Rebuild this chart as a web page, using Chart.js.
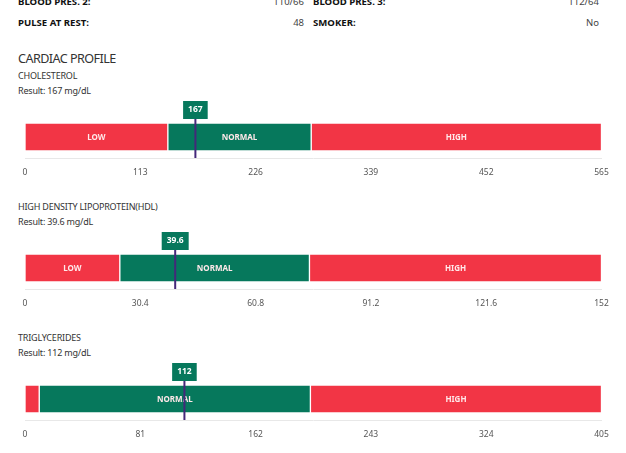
<!DOCTYPE html>
<html>
<head>
<meta charset="utf-8">
<title>Cardiac profile</title>
<script src="https://cdn.jsdelivr.net/npm/chart.js@4"></script>
<style>
    html, body { margin: 0; padding: 0; background: #fff; overflow: hidden; }
    body { width: 626px; height: 453px; position: relative; font-family: "Noto Sans", sans-serif; color: #333; }
    .txt { position: absolute; white-space: nowrap; line-height: 1; }
    .lbl { font-size: 9.6px; font-weight: 700; color: #111; }
    .val { font-size: 9.5px; color: #444; text-align: right; }
    .sub { font-size: 9px; letter-spacing: -0.2px; color: #333; left: 18px; }
    canvas { position: absolute; left: 0; }
</style>
</head>
<body>
<div class="txt lbl" style="left:18px;top:-3px">BLOOD PRES. 2:</div>
<div class="txt val" style="right:322px;top:-3px">110/66</div>
<div class="txt lbl" style="left:313px;top:-3px">BLOOD PRES. 3:</div>
<div class="txt val" style="right:27px;top:-3px">112/64</div>
<div class="txt lbl" style="left:18px;top:18px">PULSE AT REST:</div>
<div class="txt val" style="right:322px;top:18px">48</div>
<div class="txt lbl" style="left:313px;top:18px">SMOKER:</div>
<div class="txt val" style="right:27px;top:18px">No</div>

<div class="txt" style="left:18px;top:53px;font-size:12.6px;letter-spacing:-0.55px">CARDIAC PROFILE</div>

<div class="txt sub" style="top:71px">CHOLESTEROL</div>
<div class="txt sub" style="top:86px">Result: 167 mg/dL</div>
<canvas id="chart1" style="top:96px"></canvas>

<div class="txt sub" style="top:202px">HIGH DENSITY LIPOPROTEIN(HDL)</div>
<div class="txt sub" style="top:217px">Result: 39.6 mg/dL</div>
<canvas id="chart2" style="top:227px"></canvas>

<div class="txt sub" style="top:333px">TRIGLYCERIDES</div>
<div class="txt sub" style="top:348px">Result: 112 mg/dL</div>
<canvas id="chart3" style="top:358px"></canvas>

<script>
// larghezza di ogni fascia (low, normal, high)
const cholesterolRanges = [140, 140.5, 284.5];
const hdlRanges = [25, 50, 77];
const triglycerideRanges = [10, 190.5, 204.5];

const rangeNames = ['LOW', 'NORMAL', 'HIGH'];
const rangeColors = ['#f23545', '#06785c', '#f23545'];

const cholesterolResult = 167;
const hdlResult = 39.6;
const triglycerideResult = 112;

const cholesterolMax = 565;
const hdlMax = 152;
const triglycerideMax = 405;

const cholesterolStep = 113;
const hdlStep = 30.4;
const triglycerideStep = 81;

// etichette dentro le barre + marker del risultato
const rangePlugin = {
    id: 'rangePlugin',
    afterDatasetsDraw(chart, args, opts) {
        const ctx = chart.ctx;
        const xScale = chart.scales.x;
        const area = chart.chartArea;
        ctx.save();
        ctx.font = '700 8px "Noto Sans", sans-serif';
        ctx.fillStyle = '#ffe9ea';
        ctx.textAlign = 'center';
        ctx.textBaseline = 'middle';
        chart.data.datasets.forEach((ds, i) => {
            const bar = chart.getDatasetMeta(i).data[0];
            const w = Math.abs(bar.x - bar.base);
            if (w < 30) return;
            ctx.fillText(rangeNames[i], (bar.x + bar.base) / 2, bar.y + 0.5);
        });

        const x = xScale.getPixelForValue(opts.result);
        ctx.strokeStyle = '#44287a';
        ctx.lineWidth = 2;
        ctx.beginPath();
        ctx.moveTo(x, area.top - 2);
        ctx.lineTo(x, area.bottom);
        ctx.stroke();

        const text = String(opts.result);
        ctx.font = '700 8.5px "Noto Sans", sans-serif';
        const boxW = ctx.measureText(text).width + 10;
        ctx.fillStyle = '#06785c';
        ctx.fillRect(x - boxW / 2, area.top - 15, boxW, 18);
        ctx.fillStyle = '#fff';
        ctx.fillText(text, x, area.top - 6.5);
        ctx.restore();
    }
};

function drawChart(id, ranges, max, step, result) {
    const canvas = document.getElementById(id);
    new Chart(canvas, {
        type: 'bar',
        data: {
            labels: [''],
            datasets: ranges.map((r, i) => ({
                label: rangeNames[i],
                data: [r],
                backgroundColor: rangeColors[i],
                borderColor: '#fff',
                borderWidth: 1,
                borderSkipped: false,
                barThickness: 28
            }))
        },
        options: {
            indexAxis: 'y',
            responsive: false,
            animation: false,
            devicePixelRatio: 1,
            layout: { padding: { top: 20, left: 25, right: 24.5, bottom: 0 } },
            scales: {
                x: {
                    stacked: true,
                    min: 0,
                    max: max,
                    grid: { display: false },
                    border: { color: '#e8e8e8', width: 1 },
                    afterFit(scale) { scale.height = 28; },
                    ticks: {
                        stepSize: step,
                        autoSkip: false,
                        maxRotation: 0,
                        padding: 1,
                        color: '#555',
                        font: { family: '"Noto Sans", sans-serif', size: 8.5 },
                        callback: (v) => String(Math.round(v * 10) / 10)
                    }
                },
                y: { stacked: true, display: false }
            },
            plugins: {
                legend: { display: false },
                tooltip: { enabled: false },
                rangePlugin: { result: result }
            }
        },
        plugins: [rangePlugin]
    });
}

for (const id of ['chart1', 'chart2', 'chart3']) {
    const c = document.getElementById(id);
    c.width = 626;
    c.height = 90;
}

drawChart('chart1', cholesterolRanges, cholesterolMax, cholesterolStep, cholesterolResult);
drawChart('chart2', hdlRanges, hdlMax, hdlStep, hdlResult);
drawChart('chart3', triglycerideRanges, triglycerideMax, triglycerideStep, triglycerideResult);
</script>
</body>
</html>
